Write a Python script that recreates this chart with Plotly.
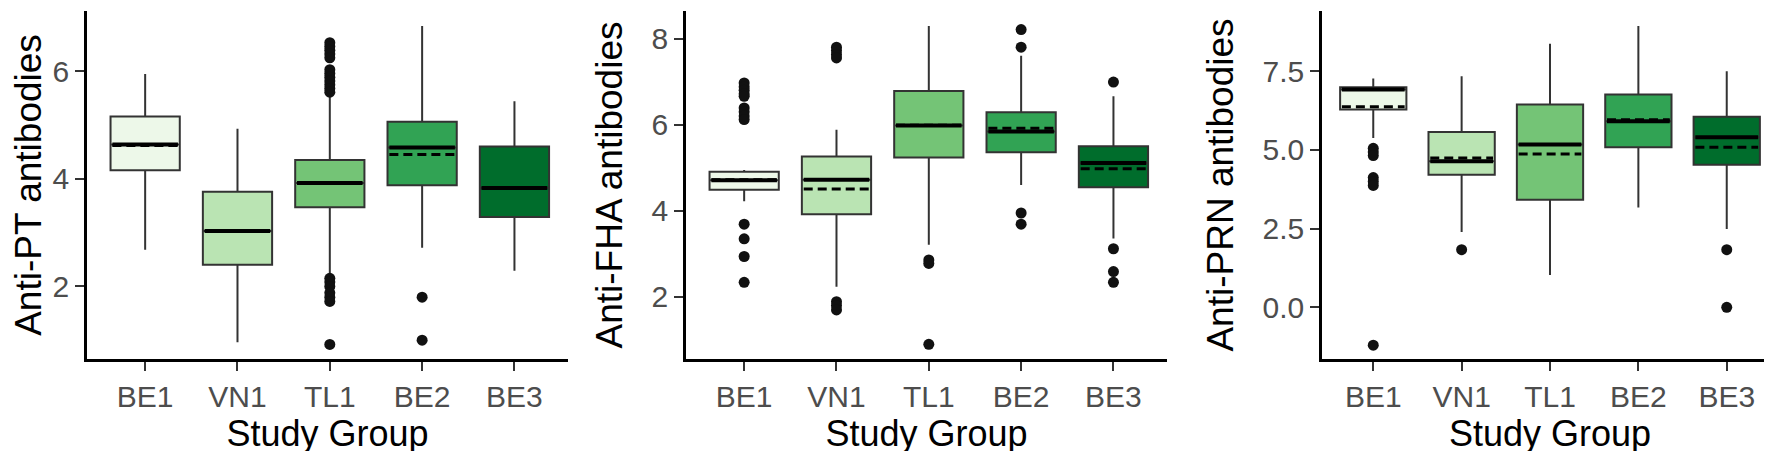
import plotly.graph_objects as go

groups = ["BE1", "VN1", "TL1", "BE2", "BE3"]
colors = ["#edf8e9", "#bae4b3", "#74c476", "#31a354", "#006d2c"]

# Anti-PT
pt_lower = [2.68, 0.96, 2.25, 2.72, 2.29]
pt_q1 = [4.16, 2.40, 3.47, 3.88, 3.29]
pt_median = [4.64, 3.03, 3.92, 4.58, 3.83]
pt_mean = [4.62, 3.03, 3.92, 4.45, 3.83]
pt_q3 = [5.16, 3.76, 4.35, 5.06, 4.60]
pt_upper = [5.95, 4.93, 5.55, 6.84, 5.44]
pt_outliers = [
    [],
    [],
    [6.53, 6.46, 6.39, 6.32, 6.25, 6.03, 5.96, 5.89, 5.82, 5.75, 5.68, 5.61,
     2.15, 2.08, 2.00, 1.88, 1.80, 1.72, 0.92],
    [1.80, 1.00],
    [],
]

# Anti-FHA
fha_lower = [4.22, 2.24, 3.21, 4.60, 3.36]
fha_q1 = [4.49, 3.92, 5.24, 5.36, 4.55]
fha_median = [4.71, 4.72, 5.98, 5.84, 5.11]
fha_mean = [4.72, 4.51, 5.99, 5.92, 4.98]
fha_q3 = [4.91, 5.26, 6.78, 6.29, 5.50]
fha_upper = [4.95, 5.88, 8.29, 7.60, 6.66]
fha_outliers = [
    [6.97, 6.88, 6.80, 6.72, 6.66, 6.39, 6.30, 6.20, 6.12, 3.69, 3.35, 2.94, 2.34],
    [7.80, 7.72, 7.63, 7.55, 1.89, 1.80, 1.70],
    [2.86, 2.78, 0.90],
    [8.21, 7.80, 3.95, 3.69],
    [6.99, 3.12, 2.59, 2.34],
]

# Anti-PRN
prn_lower = [5.38, 2.39, 1.03, 3.17, 2.49]
prn_q1 = [6.28, 4.21, 3.42, 5.08, 4.53]
prn_median = [6.92, 4.64, 5.17, 5.91, 5.40]
prn_mean = [6.37, 4.74, 4.87, 5.96, 5.08]
prn_q3 = [6.99, 5.57, 6.44, 6.76, 6.05]
prn_upper = [7.27, 7.34, 8.37, 8.93, 7.50]
prn_outliers = [
    [5.05, 4.93, 4.82, 4.12, 4.00, 3.87, -1.20],
    [1.83],
    [],
    [],
    [1.83, 0.00],
]

panels = [
    ("Anti-PT antibodies", pt_lower, pt_q1, pt_median, pt_mean, pt_q3, pt_upper, pt_outliers,
     [0.65, 7.12], [2, 4, 6], ["2", "4", "6"], [79, 560], [-0.63, 4.58]),
    ("Anti-FHA antibodies", fha_lower, fha_q1, fha_median, fha_mean, fha_q3, fha_upper, fha_outliers,
     [0.56, 8.64], [2, 4, 6, 8], ["2", "4", "6", "8"], [678, 1159], [-0.63, 4.58]),
    ("Anti-PRN antibodies", prn_lower, prn_q1, prn_median, prn_mean, prn_q3, prn_upper, prn_outliers,
     [-1.64, 9.41], [0, 2.5, 5, 7.5], ["0.0", "2.5", "5.0", "7.5"], [1314, 1770], [-0.58, 4.58]),
]

W, H = 1772, 451
BOXW = 0.75
font_family = "Liberation Sans, Arial, sans-serif"

fig = go.Figure()
layout = dict(
    width=W, height=H,
    margin=dict(l=0, r=0, t=0, b=0),
    paper_bgcolor="white", plot_bgcolor="white",
    showlegend=False,
    font=dict(family=font_family, color="#000000"),
)

ydom = [1 - 351 / H, 1 - 3 / H]
for p, (title, lo, q1, med, mean, q3, up, outs, yr, tv, tt, xpx, xr) in enumerate(panels):
    sfx = "" if p == 0 else str(p + 1)
    xa, ya = "x" + sfx, "y" + sfx
    xpos = list(range(len(groups)))
    for i, g in enumerate(groups):
        fig.add_trace(go.Box(
            x=[xpos[i]], q1=[q1[i]], median=[med[i]], q3=[q3[i]],
            lowerfence=[lo[i]], upperfence=[up[i]],
            width=BOXW, whiskerwidth=0,
            fillcolor=colors[i],
            line=dict(color="#333333", width=2),
            boxpoints=False, name=g, xaxis=xa, yaxis=ya,
        ))
        # emphasised median line (ggplot draws it thicker)
        fig.add_trace(go.Scatter(
            x=[xpos[i] - BOXW / 2 + 0.02, xpos[i] + BOXW / 2 - 0.02], y=[med[i], med[i]],
            mode="lines", line=dict(color="#000000", width=4),
            hoverinfo="skip", xaxis=xa, yaxis=ya,
        ))
        # dashed mean line
        fig.add_trace(go.Scatter(
            x=[xpos[i] - BOXW / 2 + 0.02, xpos[i] + BOXW / 2 - 0.02], y=[mean[i], mean[i]],
            mode="lines", line=dict(color="#000000", width=3, dash="9px,5px"),
            hoverinfo="skip", xaxis=xa, yaxis=ya,
        ))
        if outs[i]:
            fig.add_trace(go.Scatter(
                x=[xpos[i]] * len(outs[i]), y=outs[i], mode="markers",
                marker=dict(color="#111111", size=11),
                xaxis=xa, yaxis=ya, name=g,
            ))
    layout["xaxis" + sfx] = dict(
        domain=[xpx[0] / W, xpx[1] / W], anchor=ya, range=xr,
        tickmode="array", tickvals=xpos, ticktext=groups,
        showline=True, linecolor="#000000", linewidth=2.5,
        ticks="outside", ticklen=9, tickwidth=2, tickcolor="#333333",
        tickfont=dict(size=30, color="#4d4d4d", family=font_family),
        showgrid=False, zeroline=False,
        title=dict(text="Study Group", font=dict(size=36, color="#000000", family=font_family), standoff=6),
    )
    layout["yaxis" + sfx] = dict(
        domain=ydom, anchor=xa, range=yr,
        tickmode="array", tickvals=tv, ticktext=tt,
        showline=True, linecolor="#000000", linewidth=2.5,
        ticks="outside", ticklen=9, tickwidth=2, tickcolor="#333333",
        tickfont=dict(size=30, color="#4d4d4d", family=font_family),
        showgrid=False, zeroline=False,
        title=dict(text=title, font=dict(size=37, color="#000000", family=font_family), standoff=18),
    )

fig.update_layout(**layout)
fig.write_html("out.html")
